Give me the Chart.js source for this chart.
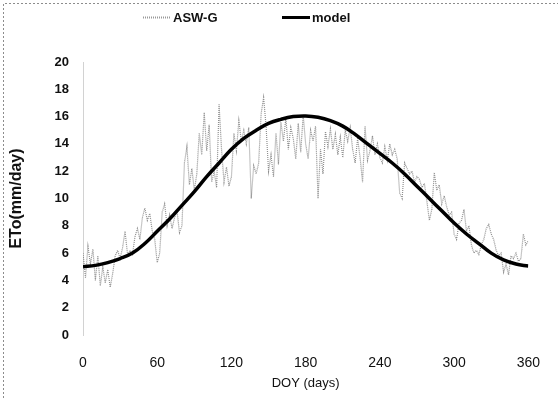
<!DOCTYPE html>
<html>
<head>
<meta charset="utf-8">
<script src="https://cdn.jsdelivr.net/npm/chart.js@4.4.0/dist/chart.umd.min.js"></script>
<style>
  html, body { margin: 0; padding: 0; background: #fff; }
  #wrap { width: 560px; height: 401px; position: relative; }
</style>
</head>
<body>
<div id="wrap"><canvas id="eto"></canvas></div>
<script>
// Day-of-year ticks and ranges
const xTicks = [0, 60, 120, 180, 240, 300, 360];
const yTicks = [0, 2, 4, 6, 8, 10, 12, 14, 16, 18, 20];

// ASW-G observed ETo, every 2 days from DOY 0 to 360
const obsDays = Array.from({ length: 181 }, (_, i) => i * 2);
const obsEto = [
  6.0, 4.2, 6.5, 5.2, 6.3, 4.0, 5.8, 3.6, 5.0, 3.8,
  4.8, 3.5, 4.5, 5.8, 6.2, 5.6, 6.4, 7.6, 5.9, 6.2,
  5.9, 7.2, 7.8, 7.0, 8.6, 9.3, 8.4, 8.9, 7.6, 7.0,
  5.3, 6.0, 9.0, 9.6, 8.0, 8.8, 7.8, 8.6, 9.1, 7.5,
  8.0, 12.6, 13.8, 11.0, 12.2, 10.6, 11.8, 14.8, 13.2, 16.3,
  13.5, 15.4, 11.2, 12.0, 10.8, 16.9, 13.6, 11.2, 12.3, 10.9,
  11.6, 14.8, 13.5, 15.7, 14.2, 15.0, 14.0, 15.2, 10.0, 12.4,
  11.8, 12.6, 16.2, 17.4, 15.3, 12.0, 13.2, 11.6, 14.8, 12.5,
  15.6, 14.2, 15.9, 13.6, 15.2, 14.4, 12.9, 15.5, 13.4, 16.1,
  14.0, 12.9, 15.0, 14.2, 15.3, 10.0, 13.6, 11.8, 14.9, 13.8,
  15.1, 13.6, 14.7, 13.2, 14.5, 13.0, 15.0, 14.2, 15.2, 13.6,
  12.6, 14.4, 13.0, 11.2, 15.3, 12.8, 13.5, 14.6, 13.2, 14.0,
  13.0, 12.6, 13.8, 12.8, 14.0, 13.2, 13.6, 12.9, 10.4, 10.0,
  12.6, 12.2, 11.8, 12.0, 11.2, 11.6, 11.4, 10.8, 11.1, 9.8,
  8.4, 9.2, 11.9, 10.6, 11.0, 9.6, 10.2, 9.4, 8.8, 9.0,
  7.4, 7.0, 8.2, 8.4, 9.2, 7.6, 8.0, 6.6, 6.0, 6.2,
  5.9, 6.6, 7.0, 7.8, 8.1, 7.4, 7.0, 6.2, 5.8, 6.0,
  4.6, 5.2, 4.4, 5.8, 5.6, 6.0, 5.4, 5.6, 7.4, 6.6,
  6.9
];

// Model ETo, every 10 days
const modelDays = Array.from({ length: 37 }, (_, i) => i * 10);
const modelEto = [
  5.0, 5.1, 5.3, 5.6, 6.0, 6.7, 7.6, 8.5, 9.5, 10.5,
  11.6, 12.6, 13.6, 14.4, 15.0, 15.5, 15.8, 16.0, 16.05, 15.95,
  15.7, 15.3, 14.7, 14.0, 13.3, 12.6, 11.8, 10.9, 10.0, 9.1,
  8.2, 7.4, 6.7, 6.0, 5.5, 5.2, 5.05
];

const narrow = "'Liberation Sans Narrow', 'Arial Narrow', 'Liberation Sans', sans-serif";

// legend + outer frame drawn by hand to mimic the Excel export
const frameLegend = {
  id: 'frameLegend',
  afterDraw(chart) {
    const { ctx } = chart;
    ctx.save();
    ctx.strokeStyle = '#8c8c8c';
    ctx.lineWidth = 1;
    ctx.setLineDash([2, 2]);
    ctx.beginPath();
    ctx.moveTo(3.5, 398);
    ctx.lineTo(3.5, 3.5);
    ctx.lineTo(558, 3.5);
    ctx.stroke();

    const ds = chart.data.datasets;
    ctx.font = 'bold 13px ' + narrow;
    ctx.textBaseline = 'middle';
    ctx.fillStyle = '#111';
    // ASW-G
    ctx.strokeStyle = '#9a9a9a';
    ctx.setLineDash([1, 1]);
    ctx.lineWidth = 2;
    ctx.beginPath();
    ctx.moveTo(143, 17.5);
    ctx.lineTo(171, 17.5);
    ctx.stroke();
    ctx.fillText(ds[0].label, 173, 18);
    // model
    ctx.strokeStyle = '#000';
    ctx.setLineDash([]);
    ctx.lineWidth = 3;
    ctx.beginPath();
    ctx.moveTo(282, 17.5);
    ctx.lineTo(310, 17.5);
    ctx.stroke();
    ctx.fillText(ds[1].label, 312, 18);
    ctx.restore();
  }
};

new Chart(document.getElementById('eto'), {
  type: 'line',
  data: {
    datasets: [
      {
        label: 'ASW-G',
        data: obsDays.map((d, i) => ({ x: d, y: obsEto[i] })),
        borderColor: '#8f8f8f',
        borderWidth: 1.2,
        borderDash: [1, 1],
        pointRadius: 0,
        tension: 0,
        order: 2
      },
      {
        label: 'model',
        data: modelDays.map((d, i) => ({ x: d, y: modelEto[i] })),
        borderColor: '#000',
        borderWidth: 3.5,
        pointRadius: 0,
        tension: 0.4,
        order: 1
      }
    ]
  },
  options: {
    responsive: true,
    maintainAspectRatio: false,
    animation: false,
    layout: { padding: { left: 0, right: 15, top: 62, bottom: 0 } },
    plugins: { legend: { display: false }, tooltip: { enabled: false } },
    scales: {
      x: {
        type: 'linear',
        min: 0, max: 360,
        afterBuildTicks(scale) { scale.ticks = xTicks.map(v => ({ value: v })); },
        afterFit(scale) { scale.height = 66; },
        grid: { display: false, drawTicks: false },
        border: { display: false },
        ticks: { color: '#111', font: { family: narrow, size: 14 }, padding: 20, maxRotation: 0 },
        title: { display: true, text: 'DOY (days)', color: '#111', font: { family: "'Liberation Sans', Arial, sans-serif", size: 13 }, padding: { top: 0, bottom: 10 } }
      },
      y: {
        min: 0, max: 20,
        afterBuildTicks(scale) { scale.ticks = yTicks.map(v => ({ value: v })); },
        afterFit(scale) { scale.width = 83; },
        grid: { display: false, drawTicks: false },
        border: { display: true, color: '#d2d2d2', dash: [1, 3], width: 1 },
        ticks: { color: '#111', font: { family: narrow, size: 13, weight: 'bold' }, padding: 14 },
        title: { display: true, text: 'ETo(mm/day)', color: '#111', font: { family: "'Liberation Sans', Arial, sans-serif", size: 16, weight: 'bold' }, padding: { top: 7, bottom: 0 } }
      }
    }
  },
  plugins: [frameLegend]
});
</script>
</body>
</html>
